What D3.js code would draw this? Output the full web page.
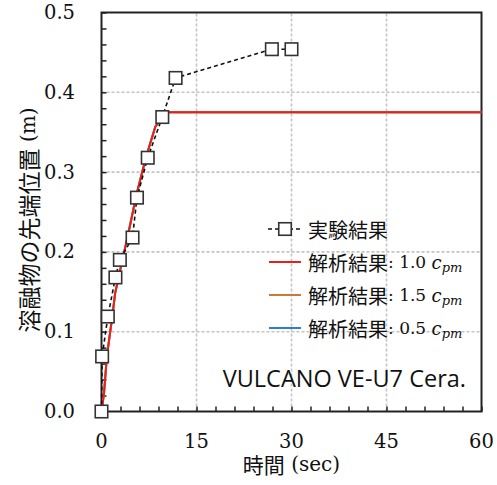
<!DOCTYPE html>
<html>
<head>
<meta charset="utf-8">
<script src="https://cdn.jsdelivr.net/npm/d3@7"></script>
<style>
  html, body { margin: 0; padding: 0; background: #fff; }
  svg { display: block; }
</style>
</head>
<body>
<svg id="chart" width="497" height="485"></svg>
<script>
// Experimental front position of the melt (VULCANO VE-U7 Cera.)
const expTime = [0, 0.1, 1.0, 2.2, 2.9, 4.9, 5.6, 7.3, 9.6, 11.7, 26.9, 30.0];
const expPos  = [0, 0.069, 0.119, 0.168, 0.190, 0.218, 0.268, 0.318, 0.369, 0.418, 0.454, 0.454];

// Analytical results for three values of c_pm
const calTime = [0, 0.4, 0.85, 1.7, 2.15, 3.3, 4.1, 5.0, 5.4, 7.0, 8.5, 9.6, 10.3, 60];
const calPos10 = [0, 0.023, 0.069, 0.119, 0.148, 0.190, 0.218, 0.252, 0.268, 0.318, 0.357, 0.369, 0.375, 0.375];
const calPos15 = [0, 0.023, 0.069, 0.119, 0.148, 0.190, 0.218, 0.252, 0.268, 0.318, 0.357, 0.369, 0.375, 0.375];
const calPos05 = [0, 0.023, 0.069, 0.119, 0.148, 0.190, 0.218, 0.252, 0.268, 0.318, 0.357, 0.369, 0.375, 0.375];

const xTicks = [0, 15, 30, 45, 60];
const yTicks = [0.0, 0.1, 0.2, 0.3, 0.4, 0.5];

const legendItems = [
  { name: "実験結果", coef: null, color: "#222" },
  { name: "解析結果", coef: "1.0", color: "#e8201c" },
  { name: "解析結果", coef: "1.5", color: "#cd7a35" },
  { name: "解析結果", coef: "0.5", color: "#2d7fcc" }
];

const CJK = "'Noto Sans CJK JP', sans-serif";
const SERIF = "'DejaVu Serif', serif";

const svg = d3.select("#chart");
const pLeft = 101.5, pRight = 481.5, pTop = 12.5, pBottom = 411.5;

const x = d3.scaleLinear().domain([0, 60]).range([pLeft, pRight]);
const y = d3.scaleLinear().domain([0, 0.5]).range([pBottom, pTop]);

// grid lines
const grid = svg.append("g").attr("stroke", "#c4c4c4").attr("stroke-width", 1.6)
  .attr("stroke-dasharray", "3,2");
grid.selectAll("line.v").data([15, 30, 45]).join("line").attr("class", "v")
  .attr("x1", d => x(d)).attr("x2", d => x(d)).attr("y1", y(0)).attr("y2", y(0.5));
grid.selectAll("line.h").data([0.1, 0.2, 0.3, 0.4]).join("line").attr("class", "h")
  .attr("y1", d => y(d)).attr("y2", d => y(d)).attr("x1", x(0)).attr("x2", x(60));

// minor inward ticks
const xMinor = d3.range(0, 60.01, 3);
const yMinor = d3.range(0, 0.5001, 0.02);
const xAxis = svg.append("g").attr("transform", `translate(0,${pBottom})`)
  .call(d3.axisBottom(x).tickValues(xMinor).tickSize(-5).tickFormat(""));
const yAxis = svg.append("g").attr("transform", `translate(${pLeft},0)`)
  .call(d3.axisLeft(y).tickValues(yMinor).tickSize(-5).tickFormat(""));
[xAxis, yAxis].forEach(a => {
  a.select(".domain").remove();
  a.selectAll(".tick line").attr("stroke", "#222").attr("stroke-width", 1.5);
});

// frame
svg.append("rect").attr("x", pLeft).attr("y", pTop)
  .attr("width", pRight - pLeft).attr("height", pBottom - pTop)
  .attr("fill", "none").attr("stroke", "#222").attr("stroke-width", 2);

// tick labels
svg.append("g").selectAll("text").data(xTicks).join("text")
  .attr("x", d => x(d)).attr("y", 441).attr("text-anchor", "middle")
  .attr("dominant-baseline", "central")
  .style("font-family", SERIF).style("font-size", "19.5px").attr("fill", "#111")
  .text(d => d);
svg.append("g").selectAll("text").data(yTicks).join("text")
  .attr("x", 75).attr("y", d => y(d)).attr("text-anchor", "end")
  .attr("dominant-baseline", "central")
  .style("font-family", SERIF).style("font-size", "19.5px").attr("fill", "#111")
  .text(d => d.toFixed(1));

// axis titles
const xt = svg.append("text").attr("x", (pLeft + pRight) / 2).attr("y", 464)
  .attr("text-anchor", "middle").attr("dominant-baseline", "central").attr("fill", "#111");
xt.append("tspan").style("font-family", CJK).style("font-size", "21px").text("時間");
xt.append("tspan").style("font-family", SERIF).style("font-size", "20px").text(" (sec)");

const yt = svg.append("text").attr("transform", "translate(28,220) rotate(-90)")
  .attr("text-anchor", "middle").attr("dominant-baseline", "central").attr("fill", "#111");
yt.append("tspan").style("font-family", CJK).style("font-size", "23px").text("溶融物の先端位置");
yt.append("tspan").style("font-family", SERIF).style("font-size", "20px").text(" (m)");

// analytical curves (drawn beneath the experiment)
const line = d3.line().x(d => x(d[0])).y(d => y(d[1]));
[[calPos05, legendItems[3].color], [calPos15, legendItems[2].color], [calPos10, legendItems[1].color]]
  .forEach(([vals, col]) => {
    svg.append("path").datum(calTime.map((t, i) => [t, vals[i]]))
      .attr("d", line).attr("fill", "none").attr("stroke", col).attr("stroke-width", 2);
  });

// experimental data
const expData = expTime.map((t, i) => [t, expPos[i]]);
svg.append("path").datum(expData).attr("d", line).attr("fill", "none")
  .attr("stroke", "#111").attr("stroke-width", 1.6).attr("stroke-dasharray", "4,3");
const sq = 12.5;
svg.append("g").selectAll("rect").data(expData).join("rect")
  .attr("x", d => x(d[0]) - sq / 2).attr("y", d => y(d[1]) - sq / 2)
  .attr("width", sq).attr("height", sq)
  .attr("fill", "#fff").attr("stroke", "#333").attr("stroke-width", 1.6);

// annotation
svg.append("text").attr("x", 466).attr("y", 387).attr("text-anchor", "end")
  .style("font-family", "'Open Sans', sans-serif").style("font-size", "23.5px").attr("fill", "#111")
  .text("VULCANO VE-U7 Cera.");

// legend
const lg = svg.append("g");
const rowY = [229, 262, 295, 328];
legendItems.forEach((it, i) => {
  const yy = rowY[i];
  if (it.coef === null) {
    lg.append("line").attr("x1", 268).attr("x2", 301).attr("y1", yy).attr("y2", yy)
      .attr("stroke", "#111").attr("stroke-width", 1.6).attr("stroke-dasharray", "4,3");
    lg.append("rect").attr("x", 285 - sq / 2).attr("y", yy - sq / 2)
      .attr("width", sq).attr("height", sq)
      .attr("fill", "#fff").attr("stroke", "#333").attr("stroke-width", 1.6);
  } else {
    lg.append("line").attr("x1", 269).attr("x2", 301).attr("y1", yy).attr("y2", yy)
      .attr("stroke", it.color).attr("stroke-width", 2);
  }
  const t = lg.append("text").attr("x", 308).attr("y", yy)
    .attr("dominant-baseline", "central").attr("fill", "#111");
  t.append("tspan").style("font-family", CJK).style("font-size", "20px").text(it.name);
  if (it.coef !== null) {
    t.append("tspan").style("font-family", SERIF).style("font-size", "17px").text(": " + it.coef + " ");
    t.append("tspan").style("font-family", SERIF).style("font-style", "italic").style("font-size", "18px").text("c");
    t.append("tspan").attr("dy", 5).style("font-family", SERIF).style("font-style", "italic").style("font-size", "13px").text("pm");
  }
});
</script>
</body>
</html>
